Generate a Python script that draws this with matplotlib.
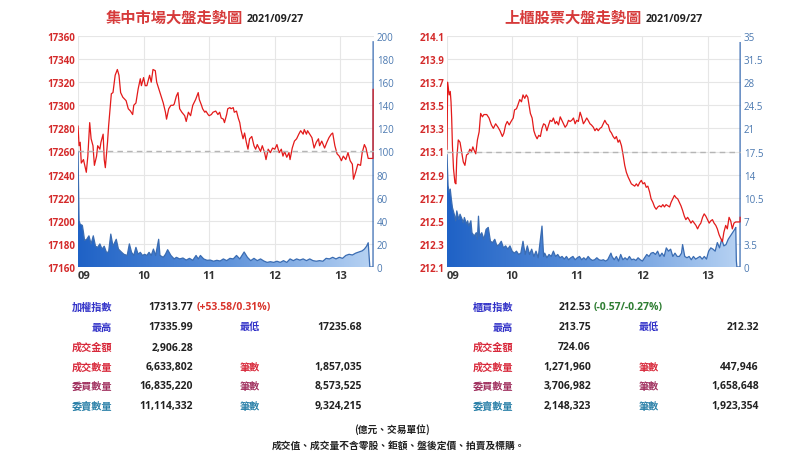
import numpy as np
import matplotlib
matplotlib.use('Agg')
import matplotlib.pyplot as plt
from matplotlib.colors import LinearSegmentedColormap

plt.rcParams['font.family'] = ['Open Sans', 'Noto Sans CJK TC', 'DejaVu Sans']

# minutes after 09:00 -> value
twse_price = [
    (0, 17282), (1, 17265), (2, 17268), (3, 17250), (5, 17253), (7.6, 17242), (9, 17256),
    (10.7, 17285), (12, 17271), (13.7, 17265), (15, 17248), (17, 17256), (18, 17265), (20, 17262),
    (21, 17268), (23, 17275), (24, 17253), (25, 17246), (27, 17268), (28, 17282), (30.5, 17310),
    (32, 17311), (34, 17326), (36, 17331), (37.5, 17326), (39, 17311), (41, 17307), (44, 17304),
    (46, 17297), (48, 17295), (50, 17292), (51, 17300), (53, 17302), (55, 17314), (57, 17323),
    (58, 17317), (60, 17324), (61.5, 17317), (63, 17317), (65.5, 17326), (67, 17320), (68.6, 17331),
    (70.7, 17330), (72, 17320), (74, 17314), (76, 17308), (78, 17302), (80, 17294), (81, 17288),
    (83, 17297), (85, 17300), (87, 17300), (88, 17301), (90, 17308), (91.5, 17311), (93, 17297),
    (95, 17294), (97.6, 17291), (99, 17286), (101, 17294), (103, 17291), (105, 17300), (107.6, 17305),
    (110, 17311), (111, 17305), (113, 17300), (114, 17297), (116, 17294), (117, 17295), (119, 17292),
    (120, 17291), (122, 17292), (123.5, 17294), (126, 17295), (128, 17292), (129.6, 17294),
    (131, 17289), (133, 17288), (134, 17285), (136, 17292), (137, 17297), (139, 17298), (140, 17297),
    (142, 17298), (143, 17294), (145, 17295), (146.6, 17289), (148, 17285), (149, 17279),
    (151, 17271), (152.4, 17276), (154, 17268), (155.5, 17262), (157, 17271), (159, 17273),
    (161, 17265), (162.5, 17262), (164, 17266), (165.5, 17263), (167, 17260), (168.6, 17265),
    (170.7, 17259), (172, 17253), (174, 17262), (176, 17259), (178, 17263), (180, 17262),
    (182, 17266), (184, 17259), (186, 17262), (187.5, 17256), (189, 17260), (191, 17255),
    (193, 17259), (194, 17253), (196, 17263), (198, 17269), (200, 17271), (202, 17275),
    (203.7, 17278), (206, 17275), (207, 17279), (209, 17275), (210, 17278), (212, 17275),
    (214, 17272), (216, 17263), (218, 17268), (220, 17271), (221, 17265), (223, 17269),
    (225.6, 17263), (227.7, 17268), (229.6, 17272), (231.7, 17275), (233, 17276), (235, 17265),
    (237, 17258), (239, 17256), (241, 17252), (242.7, 17256), (245, 17253), (247, 17259),
    (249, 17252), (251, 17249), (252, 17236), (254, 17242), (256, 17249), (258.5, 17248),
    (260, 17259), (262, 17266), (263.5, 17263), (265.5, 17254), (269.9, 17254), (270, 17313.77),
]
twse_volume = [
    (0, 100), (1, 40), (2, 37), (4, 36), (5, 30), (6, 23), (8, 24), (10, 27), (12, 20), (14, 27),
    (16, 18), (18, 17), (20, 20), (22, 15.5), (24, 18), (26, 12.7), (28, 13), (30, 28.5), (32, 18),
    (35, 24), (37, 15.5), (40, 12.7), (42, 11), (45, 10), (47, 20), (49, 12.7), (51, 10), (53, 17),
    (55, 11), (57, 12.7), (59, 10), (61, 11), (63, 10), (65, 12.7), (67, 10), (69, 15.5), (71, 10),
    (73.8, 24), (75, 10), (78, 8.4), (80, 11), (82, 15), (85, 10), (88, 7), (90, 8.4), (93, 7),
    (96, 7.8), (99, 6), (102, 7.5), (105, 5.8), (108, 10), (110, 7), (112, 10), (115, 7), (118, 5.8),
    (121, 6), (124, 5), (127, 5.8), (130, 5.2), (133, 7), (136, 5.5), (139, 7.5), (142, 7), (145, 10),
    (148, 7), (152, 13), (155, 8.4), (158, 5.5), (161, 7.5), (164, 5.5), (167, 7), (170, 5.2),
    (173, 4), (176, 4.6), (179, 4), (182, 5), (185, 4), (188, 5.5), (191, 4), (194, 7), (197, 5.5),
    (200, 7), (203, 6), (206, 7), (209, 5.5), (212, 7), (215, 5.5), (218, 5), (221, 5.5), (224, 5),
    (227, 7.5), (230, 7), (233, 8.4), (236, 7), (239, 8.4), (242, 7.5), (245, 10), (248, 11),
    (251, 10.4), (254, 12), (257, 13), (260, 14), (262, 15.5), (264, 18), (265.5, 21), (266.5, 7),
    (267, 0), (269.9, 0), (270, 195),
]

otc_price = [
    (0, 213.12), (0.6, 213.70), (2, 213.59), (3, 213.62), (3.7, 213.53), (4.3, 213.39), (5, 213.15),
    (6, 212.95), (7.3, 212.83), (8.2, 212.82), (9, 213.04), (10.4, 213.20), (12, 213.18),
    (13.4, 213.10), (15, 213.01), (16.5, 212.98), (18, 213.07), (19.5, 213.08), (21, 213.12),
    (22.6, 213.10), (23.8, 213.14), (25, 213.11), (26.5, 213.08), (28, 213.20), (29.6, 213.27),
    (31, 213.43), (32.6, 213.40), (34, 213.42), (36.6, 213.42), (38.7, 213.39), (40.9, 213.33),
    (42.7, 213.30), (44.8, 213.34), (47, 213.31), (48.8, 213.28), (51, 213.23), (52.4, 213.26),
    (54, 213.33), (55.5, 213.36), (57.3, 213.33), (59, 213.36), (61, 213.39), (62.2, 213.46),
    (64, 213.47), (65.2, 213.50), (67, 213.55), (68.6, 213.53), (70, 213.59), (71.6, 213.56),
    (73, 213.59), (74.4, 213.57), (75.6, 213.50), (76.8, 213.43), (78.4, 213.39), (80, 213.28),
    (81.4, 213.24), (83, 213.21), (84.5, 213.24), (86, 213.23), (87.5, 213.30), (89, 213.34),
    (90.5, 213.33), (92, 213.28), (93.6, 213.33), (95, 213.37), (96.6, 213.36), (98, 213.39),
    (99.7, 213.34), (101, 213.36), (102.7, 213.33), (104.3, 213.40), (105.8, 213.37),
    (107.3, 213.34), (108.8, 213.31), (110.4, 213.33), (111.9, 213.37), (113.4, 213.36),
    (114.9, 213.37), (116.5, 213.39), (118, 213.34), (119.5, 213.37), (121, 213.36),
    (122.6, 213.44), (124, 213.40), (125.6, 213.34), (127, 213.36), (128.7, 213.39), (130, 213.37),
    (131.7, 213.34), (133, 213.33), (134.8, 213.31), (136.3, 213.28), (137.8, 213.30),
    (139.3, 213.28), (140.9, 213.30), (142.4, 213.31), (143.9, 213.34), (145.4, 213.37),
    (147, 213.34), (148.5, 213.33), (150, 213.28), (151.5, 213.26), (153, 213.23), (154.6, 213.21),
    (156, 213.23), (157.6, 213.18), (159, 213.20), (160.7, 213.15), (162.2, 213.07), (163.7, 212.98),
    (165.2, 212.92), (166.8, 212.88), (168.3, 212.85), (169.8, 212.82), (171.3, 212.81),
    (172.9, 212.80), (174.4, 212.82), (175.9, 212.80), (177.4, 212.83), (179, 212.85),
    (180.5, 212.82), (182, 212.83), (183.5, 212.79), (185, 212.80), (186.6, 212.75), (188, 212.69),
    (189.6, 212.66), (191.2, 212.62), (192.7, 212.60), (194.2, 212.62), (195.7, 212.63),
    (197.3, 212.62), (198.8, 212.64), (200.3, 212.62), (201.8, 212.64), (203.4, 212.63),
    (205, 212.62), (206.4, 212.66), (208, 212.69), (209.5, 212.72), (211, 212.70), (212.5, 212.69),
    (214, 212.66), (215.5, 212.63), (217, 212.59), (218.6, 212.54), (220, 212.51), (221.6, 212.53),
    (223, 212.51), (224.7, 212.48), (226.2, 212.50), (227.7, 212.48), (229.3, 212.46),
    (230.8, 212.43), (232.3, 212.46), (233.8, 212.48), (235.4, 212.53), (236.9, 212.56),
    (238.4, 212.54), (240, 212.51), (241.5, 212.48), (243, 212.50), (244.5, 212.51), (246, 212.48),
    (247.6, 212.46), (249, 212.43), (250.6, 212.38), (252, 212.35), (253.7, 212.32), (255, 212.40),
    (256.7, 212.46), (258.2, 212.43), (259.8, 212.53), (261.3, 212.50), (262.8, 212.43),
    (264.3, 212.48), (265.9, 212.49), (269.9, 212.49), (270, 212.53),
]
otc_volume = [
    (0, 17), (1, 12.3), (2, 11.3), (3, 11.8), (4, 10.3), (5, 9), (7, 7.8), (8, 7), (9, 8.5),
    (10, 7.8), (11, 7.2), (12, 8), (14, 7.2), (15, 6.7), (16, 7.5), (18, 6.5), (19, 7), (20, 6.2),
    (22, 7), (23, 5.2), (25, 4.7), (27, 5.2), (28, 4.2), (29, 7.7), (30, 4.7), (32, 5.2), (34, 4.2),
    (36, 5.7), (38, 6), (40, 3.9), (42, 3.7), (44, 4.2), (46, 3.2), (48, 3.4), (50, 3.9), (52, 2.9),
    (54, 3.2), (56, 2.7), (58, 3.2), (60, 2.4), (62, 2.1), (64, 2.4), (66, 1.9), (68, 2.1),
    (70, 3.9), (72, 1.9), (74, 3.2), (76, 1.9), (78, 2.7), (80, 1.6), (82, 2.4), (84, 1.4),
    (87.5, 6.2), (89, 1.6), (90, 2.1), (92, 1.4), (94, 1.9), (96, 1.6), (98, 2.4), (100, 1.6),
    (102, 1.9), (104, 1.4), (106, 1.6), (108, 1.2), (110, 1.6), (112, 1.1), (114, 1.4), (116, 1.6),
    (118, 1.1), (120, 1.4), (122, 1.6), (124, 1.1), (126, 1.4), (128, 1.1), (130, 1.6), (132, 1.2),
    (134, 1.0), (136, 1.1), (138, 1.4), (140, 1.1), (142, 1.0), (144, 1.1), (146, 0.9), (148, 1.1),
    (151, 2.1), (152, 1.6), (154, 1.1), (156, 1.6), (158, 0.9), (160, 1.9), (162, 1.1), (164, 1.4),
    (166, 1.1), (168, 1.6), (170, 1.1), (172, 1.2), (174, 1.0), (176, 1.4), (178, 1.1), (180, 0.9),
    (182, 1.4), (184, 1.9), (186, 1.6), (188, 2.1), (190, 2.2), (192, 1.9), (194, 2.4), (196, 1.6),
    (198, 2.1), (200, 1.6), (202, 2.9), (204, 2.4), (206, 2.7), (208, 1.6), (210, 2.1), (212, 1.6),
    (214, 1.6), (216, 2.1), (217, 3.4), (219, 1.6), (221, 1.4), (223, 1.6), (225, 1.1), (227, 1.6),
    (229, 1.2), (231, 1.4), (233, 1.6), (235, 1.2), (237, 1.6), (239, 1.2), (241, 2.4), (243, 2.9),
    (245, 2.7), (247, 2.4), (249, 3.7), (251, 2.9), (253, 4.2), (255, 3.2), (257, 3.4), (259, 4.2),
    (261, 4.7), (263, 5.2), (265, 5.7), (266, 6), (266.5, 1), (267, 0), (269.9, 0), (270, 34),
]

hour_ticks = [0, 60, 120, 180, 240]
hour_labels = ['09', '10', '11', '12', '13']
twse_pticks = list(range(17160, 17361, 20))
twse_vticks = list(range(0, 201, 20))
otc_pticks = [212.1, 212.3, 212.5, 212.7, 212.9, 213.1, 213.3, 213.5, 213.7, 213.9, 214.1]
otc_vticks = [0, 3.5, 7, 10.5, 14, 17.5, 21, 24.5, 28, 31.5, 35]
twse_prev = 17313.77 - 53.58
otc_prev = 212.53 + 0.57

twse_labels = ['加權指數', '最高', '成交金額', '成交數量', '委買數量', '委賣數量']
twse_values = ['17313.77', '17335.99', '2,906.28', '6,633,802', '16,835,220', '11,114,332']
twse_labels2 = ['', '最低', '', '筆數', '筆數', '筆數']
twse_values2 = ['', '17235.68', '', '1,857,035', '8,573,525', '9,324,215']
twse_change = '(+53.58/0.31%)'

otc_labels = ['櫃買指數', '最高', '成交金額', '成交數量', '委買數量', '委賣數量']
otc_values = ['212.53', '213.75', '724.06', '1,271,960', '3,706,982', '2,148,323']
otc_labels2 = ['', '最低', '', '筆數', '筆數', '筆數']
otc_values2 = ['', '212.32', '', '447,946', '1,658,648', '1,923,354']
otc_change = '(-0.57/-0.27%)'

row_colors = ['#3232c8', '#3232c8', '#d8283a', '#d8283a', '#a0305e', '#2a80a8']
row_colors2 = ['', '#3232c8', '', '#d8283a', '#a0305e', '#2a80a8']

W, H = 810, 456
fig = plt.figure(figsize=(W / 100, H / 100), dpi=100)
vol_cmap = LinearSegmentedColormap.from_list('vol', ['#1f62c6', '#5e92da', '#b8d3f3'])
CJK = 'Noto Sans CJK TC'


def px(x, y):
    return x / W, 1 - y / H


def draw_chart(left, right, price, volume, prev, pticks, vticks):
    ax = fig.add_axes([left / W, 1 - 268 / H, (right - left) / W, 231 / H])
    ax2 = ax.twinx()
    ax.set_zorder(ax2.get_zorder() + 1)
    ax.patch.set_visible(False)

    tv, v = zip(*volume)
    poly = ax2.fill_between(tv, v, 0, facecolor='none', edgecolor='none')
    grad = np.linspace(0, 1, 256).reshape(1, -1)
    im = ax2.imshow(grad, extent=[0, 270, 0, vticks[-1]], aspect='auto', cmap=vol_cmap,
                    origin='lower', zorder=2)
    im.set_clip_path(poly.get_paths()[0], transform=ax2.transData)
    ax2.plot(tv, v, color='#3a6cb2', lw=0.9, zorder=3)

    t, p = zip(*price)
    ax.plot(t, p, color='#e31a1a', lw=0.9)
    ax.axhline(prev, color='#b5b5b5', lw=1, ls=(0, (4, 3)))

    ax.set_xlim(0, 270.8)
    ax.set_ylim(pticks[0], pticks[-1])
    ax2.set_ylim(vticks[0], vticks[-1])
    ax.set_yticks(pticks)
    ax.set_yticklabels([f'{x:g}' for x in pticks])
    ax2.set_yticks(vticks)
    ax2.set_yticklabels([f'{x:g}' for x in vticks])
    ax.set_xticks(hour_ticks)
    ax.set_xticklabels(hour_labels)
    ax.get_xticklabels()[0].set_ha('left')

    ax2.xaxis.set_visible(True)
    ax2.tick_params(axis='x', labelbottom=False, length=0)
    ax2.grid(True, color='#e6e6e6', lw=0.8)
    ax2.set_axisbelow(True)

    ax.tick_params(axis='y', length=0, pad=2, labelsize=7, labelcolor='#d42a2a')
    ax.tick_params(axis='x', length=0, pad=2, labelsize=8, labelcolor='#333333')
    ax2.tick_params(axis='y', length=0, pad=2, labelsize=7, labelcolor='#4a78b0')
    for lab in ax.get_yticklabels():
        lab.set_fontweight('bold')
    for lab in ax.get_xticklabels():
        lab.set_fontweight('bold')
    for a in (ax, ax2):
        for s in a.spines.values():
            s.set_visible(False)


draw_chart(78, 374, twse_price, twse_volume, twse_prev, twse_pticks, twse_vticks)
draw_chart(447, 741, otc_price, otc_volume, otc_prev, otc_pticks, otc_vticks)

# titles
fig.text(*px(243, 18), '集中市場大盤走勢圖', ha='right', va='center', family=CJK,
         fontsize=11, fontweight='bold', color='#d63a3a')
fig.text(*px(247, 19), '2021/09/27', ha='left', va='center', fontsize=7.7,
         fontweight='bold', color='#222222')
fig.text(*px(642, 18), '上櫃股票大盤走勢圖', ha='right', va='center', family=CJK,
         fontsize=11, fontweight='bold', color='#d63a3a')
fig.text(*px(646, 19), '2021/09/27', ha='left', va='center', fontsize=7.7,
         fontweight='bold', color='#222222')


def draw_table(xl, xv, xc, xl2, xv2, labels, values, labels2, values2, change, change_color):
    rows_y = [308, 328, 348, 368, 387, 407]
    for i, y in enumerate(rows_y):
        fig.text(*px(xl, y), labels[i], ha='right', va='center', family=CJK, fontsize=7.3,
                 fontweight='bold', color=row_colors[i])
        fig.text(*px(xv, y), values[i], ha='right', va='center', fontsize=7.5,
                 fontweight='bold', color='#222222')
        if labels2[i]:
            fig.text(*px(xl2, y), labels2[i], ha='left', va='center', family=CJK, fontsize=7.3,
                     fontweight='bold', color=row_colors2[i])
            fig.text(*px(xv2, y), values2[i], ha='right', va='center', fontsize=7.5,
                     fontweight='bold', color='#222222')
    fig.text(*px(xc, rows_y[0]), change, ha='left', va='center', fontsize=7.5,
             fontweight='bold', color=change_color)


draw_table(112, 193, 197, 240, 362, twse_labels, twse_values, twse_labels2, twse_values2,
           twse_change, '#d9342b')
draw_table(513, 591, 594, 639, 759, otc_labels, otc_values, otc_labels2, otc_values2,
           otc_change, '#2e7d32')

fig.text(*px(392, 430), '(億元、交易單位)', ha='center', va='center', family=CJK,
         fontsize=7, fontweight='bold', color='#222222')
fig.text(*px(399, 446), '成交值、成交量不含零股、鉅額、盤後定價、拍賣及標購。', ha='center',
         va='center', family=CJK, fontsize=7, fontweight='bold', color='#222222')

fig.savefig('out.png', dpi=100)
